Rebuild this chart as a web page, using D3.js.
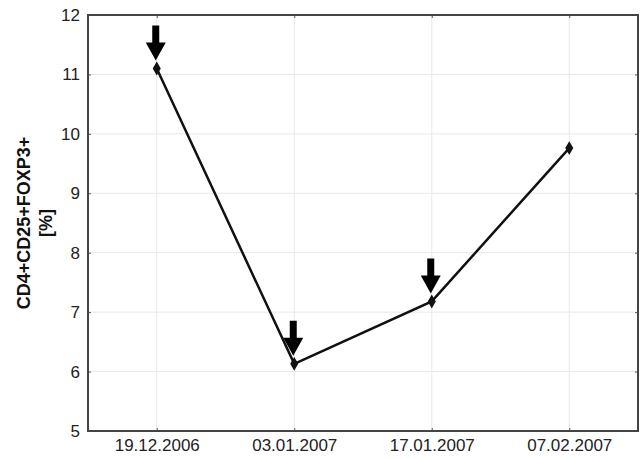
<!DOCTYPE html>
<html>
<head>
<meta charset="utf-8">
<script src="https://cdn.jsdelivr.net/npm/d3@7"></script>
<style>
  body { margin: 0; background: #fff; }
  svg { display: block; font-family: Arial, "Liberation Sans", sans-serif; }
</style>
</head>
<body>
<div id="chart"></div>
<script>
const width = 640;
const height = 459;

// data
const dates = ["19.12.2006", "03.01.2007", "17.01.2007", "07.02.2007"];
const values = [11.1, 6.13, 7.18, 9.76];
const marked = [true, true, true, false];   // arrows above these points
const yTicks = [5, 6, 7, 8, 9, 10, 11, 12];

const margin = { top: 15, right: 2, bottom: 28, left: 88 };

const svg = d3.select("#chart")
    .append("svg")
    .attr("width", width)
    .attr("height", height);

const x = d3.scalePoint()
    .domain(dates)
    .range([margin.left, width - margin.right])
    .padding(0.5);

const y = d3.scaleLinear()
    .domain([5, 12])
    .range([height - margin.bottom, margin.top]);

// grid
svg.append("g")
    .selectAll("line")
    .data(yTicks.slice(1, -1))
    .enter().append("line")
    .attr("x1", margin.left)
    .attr("x2", width - margin.right)
    .attr("y1", d => y(d))
    .attr("y2", d => y(d))
    .attr("stroke", "#e8e8e8")
    .attr("stroke-width", 1);

svg.append("g")
    .selectAll("line")
    .data(dates)
    .enter().append("line")
    .attr("x1", d => x(d))
    .attr("x2", d => x(d))
    .attr("y1", margin.top)
    .attr("y2", height - margin.bottom)
    .attr("stroke", "#e8e8e8")
    .attr("stroke-width", 1);

// axes with inward ticks
const yAxis = svg.append("g")
    .attr("transform", `translate(${margin.left},0)`)
    .call(d3.axisLeft(y).tickValues(yTicks).tickFormat(d3.format("d"))
        .tickSizeInner(-3).tickSizeOuter(0).tickPadding(8));

const yAxisR = svg.append("g")
    .attr("transform", `translate(${width - margin.right},0)`)
    .call(d3.axisRight(y).tickValues(yTicks).tickSizeInner(-3).tickSizeOuter(0).tickFormat(""));

const xAxis = svg.append("g")
    .attr("transform", `translate(0,${height - margin.bottom})`)
    .call(d3.axisBottom(x).tickSizeInner(-3).tickSizeOuter(0).tickPadding(8));

const xAxisT = svg.append("g")
    .attr("transform", `translate(0,${margin.top})`)
    .call(d3.axisTop(x).tickSizeInner(-3).tickSizeOuter(0).tickFormat(""));

[yAxis, yAxisR, xAxis, xAxisT].forEach(g => {
    g.select(".domain").remove();
    g.selectAll("line").attr("stroke", "#555").attr("stroke-width", 1);
    g.selectAll("text")
        .attr("font-family", "Arial, 'Liberation Sans', sans-serif")
        .attr("font-size", 17)
        .attr("fill", "#222");
});

// frame
svg.append("rect")
    .attr("x", margin.left)
    .attr("y", margin.top)
    .attr("width", width - margin.right - margin.left)
    .attr("height", height - margin.bottom - margin.top)
    .attr("fill", "none")
    .attr("stroke", "#444")
    .attr("stroke-width", 2);

// line
svg.append("path")
    .datum(values)
    .attr("fill", "none")
    .attr("stroke", "#111")
    .attr("stroke-width", 2.5)
    .attr("d", d3.line()
        .x((d, i) => x(dates[i]))
        .y(d => y(d)));

svg.selectAll(".dot")
    .data(values)
    .enter().append("path")
    .attr("class", "dot")
    .attr("transform", (d, i) => `translate(${x(dates[i])},${y(d)})`)
    .attr("d", d3.symbol().type(d3.symbolDiamond).size(56))
    .attr("fill", "#111");

// arrows
const arrowShape = "M-3.5,-38 L3.5,-38 L3.5,-21 L10,-21 L0,-3 L-10,-21 L-3.5,-21 Z";
svg.selectAll(".arrow")
    .data(values.map((v, i) => ({ date: dates[i], v: v, on: marked[i] })).filter(d => d.on))
    .enter().append("path")
    .attr("class", "arrow")
    .attr("transform", d => `translate(${x(d.date) - 1},${y(d.v) - 5})`)
    .attr("d", arrowShape)
    .attr("fill", "#000");

// y label
const labelY = (margin.top + height - margin.bottom) / 2;
svg.append("text")
    .attr("transform", `translate(30,${labelY}) rotate(-90)`)
    .attr("text-anchor", "middle")
    .attr("font-size", 18)
    .attr("font-weight", "bold")
    .attr("fill", "#111")
    .text("CD4+CD25+FOXP3+");

svg.append("text")
    .attr("transform", `translate(52,${labelY}) rotate(-90)`)
    .attr("text-anchor", "middle")
    .attr("font-size", 18)
    .attr("font-weight", "bold")
    .attr("fill", "#111")
    .text("[%]");
</script>
</body>
</html>
